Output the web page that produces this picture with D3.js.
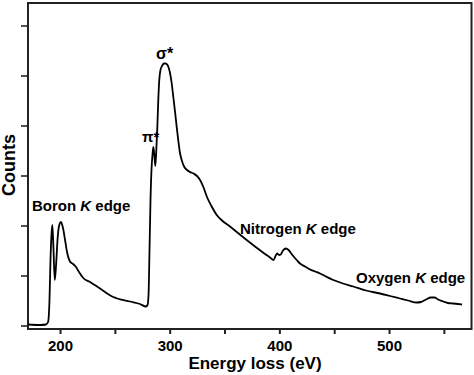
<!DOCTYPE html>
<html><head><meta charset="utf-8">
<script src="https://cdn.jsdelivr.net/npm/d3@7"></script>
<style>
html,body{margin:0;padding:0;background:#fff;}
svg{display:block;font-family:"Liberation Sans",Arial,sans-serif;}
</style></head>
<body><svg id="c" width="474" height="375"></svg>
<script>
// Energy loss (eV)
const energy = [170.8,181.8,187.2,189.1,190.4,191.3,192.2,193.0,193.9,195.2,196.4,197.7,199.1,200.9,202.7,204.6,206.4,209.1,211.9,214.6,217.3,221.2,227.4,236.5,248.6,263.8,272.9,278.4,279.8,280.7,281.6,282.5,283.4,284.3,285.1,286.0,286.9,287.8,288.7,289.6,290.5,291.6,293.0,294.8,296.2,298.0,300.3,301.8,303.3,304.9,306.4,307.9,309.4,311.2,313.1,315.8,318.5,321.7,324.9,327.7,330.7,334.0,338.3,342.9,347.7,355.0,362.3,370.2,377.8,385.1,391.5,394.7,396.5,398.1,399.7,401.2,403.3,406.1,408.4,411.5,415.8,418.8,423.4,428.0,432.5,437.1,442.5,449.2,458.0,467.4,479.0,491.8,500.9,510.0,517.3,525.2,529.2,533.7,538.3,541.5,544.7,549.5,553.8,558.6,562.9,566.6];
// Counts (arbitrary units, one unit per y tick)
const counts = [0.02,0.01,0.02,0.07,0.51,1.31,1.81,2.01,1.61,0.91,1.21,1.71,1.99,2.07,1.95,1.71,1.47,1.28,1.23,1.17,1.07,0.95,0.87,0.74,0.57,0.48,0.43,0.38,0.41,0.61,1.51,2.51,3.11,3.41,3.57,3.41,3.19,3.51,3.95,4.51,4.91,5.11,5.19,5.24,5.24,5.21,5.05,4.85,4.57,4.27,3.97,3.69,3.45,3.29,3.18,3.11,3.07,3.04,2.99,2.91,2.77,2.57,2.38,2.21,2.10,1.98,1.85,1.71,1.58,1.46,1.36,1.31,1.39,1.44,1.41,1.42,1.50,1.54,1.51,1.42,1.31,1.24,1.18,1.12,1.08,1.04,0.98,0.91,0.84,0.78,0.70,0.64,0.59,0.54,0.50,0.46,0.47,0.52,0.56,0.56,0.52,0.48,0.45,0.44,0.43,0.42];
const xTicks = [200,250,300,350,400,450,500,550];
const xTickLabels = ["200","","300","","400","","500",""];
const yTicks = [0,1,2,3,4,5,6];
const xTitle = "Energy loss (eV)";
const yTitle = "Counts";

const svg = d3.select("#c");
const L = 28, R = 471.5, T = 3, B = 329;
const x = d3.scaleLinear().domain([170.8, 575.2]).range([L, R]);
const y = d3.scaleLinear().domain([0, 6]).range([325.5, 25.5]);

// frame
svg.append("rect").attr("x", L).attr("y", T).attr("width", R - L).attr("height", B - T)
  .attr("fill", "none").attr("stroke", "#222").attr("stroke-width", 2);

const xAxis = d3.axisBottom(x).tickValues(xTicks).tickSize(5).tickPadding(6)
  .tickFormat((d, i) => xTickLabels[i]);
const gx = svg.append("g").attr("transform", `translate(0,${B})`).call(xAxis);
gx.select(".domain").remove();
gx.selectAll(".tick line").attr("stroke", "#222").attr("stroke-width", 2);
gx.selectAll(".tick text").attr("fill", "#000").style("font-size", "15px").style("font-weight", "bold");

const yAxis = d3.axisLeft(y).tickValues(yTicks).tickSize(7).tickFormat("");
const gy = svg.append("g").attr("transform", `translate(${L},0)`).call(yAxis);
gy.select(".domain").remove();
gy.selectAll(".tick line").attr("stroke", "#222").attr("stroke-width", 1.6);

// curve
const pts = energy.map((e, i) => [e, counts[i]]);
const line = d3.line().x(d => x(d[0])).y(d => y(d[1])).curve(d3.curveMonotoneX);
svg.append("path").datum(pts).attr("d", line).attr("fill", "none")
  .attr("stroke", "#000").attr("stroke-width", 1.8).attr("stroke-linejoin", "round");

// annotations
function label(xp, yp, parts, size, anchor) {
  const t = svg.append("text").attr("x", xp).attr("y", yp)
    .attr("text-anchor", anchor || "start")
    .style("font-size", size + "px").style("font-weight", "bold").attr("fill", "#000");
  parts.forEach(p => {
    const s = t.append("tspan").text(p.t);
    if (p.i) s.style("font-style", "italic");
  });
  return t;
}
label(156, 59, [{t: "σ*"}], 16);
label(142, 142, [{t: "π*"}], 15);
label(32, 211, [{t: "Boron "}, {t: "K", i: true}, {t: " edge"}], 15);
label(240, 234, [{t: "Nitrogen "}, {t: "K", i: true}, {t: " edge"}], 15);
label(356, 283, [{t: "Oxygen "}, {t: "K", i: true}, {t: " edge"}], 15);

svg.append("text").attr("x", 255).attr("y", 369).attr("text-anchor", "middle")
  .style("font-size", "17px").style("font-weight", "bold").text(xTitle);
svg.append("text").attr("transform", "translate(15,165) rotate(-90)").attr("text-anchor", "middle")
  .style("font-size", "18px").style("font-weight", "bold").text(yTitle);
</script></body></html>
